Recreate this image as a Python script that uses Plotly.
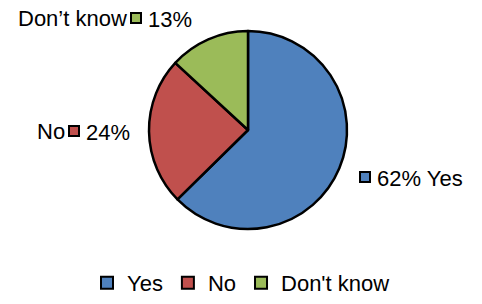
import plotly.graph_objects as go

labels = ["Yes", "No", "Don't know"]
values = [62, 24, 13]
colors = ["#4F81BD", "#C0504D", "#9BBB59"]

W, H = 482, 304
fig = go.Figure(go.Pie(
    labels=labels, values=values, sort=False, direction="clockwise", rotation=0,
    marker=dict(colors=colors, line=dict(color="black", width=2.5)),
    textinfo="none", hoverinfo="label+percent",
    domain=dict(x=[149/W, 347/W], y=[(H-229)/H, (H-31)/H]),
))

def px(x): return x / W
def py(y): return 1 - y / H

font = dict(family="Liberation Sans, Arial", size=22, color="black")
items = [
    (0, 365, 177, None, f"{values[0]}% Yes"),
    (1, 74, 131, "No", f"{values[1]}%"),
    (2, 136, 18, "Don\u2019t know", f"{values[2]}%"),
]
shapes = []
annots = []
for idx, sx, sy, left, right in items:
    s = 5
    shapes.append(dict(type="rect", xref="paper", yref="paper",
                       x0=px(sx - s), x1=px(sx + s), y0=py(sy + s), y1=py(sy - s),
                       fillcolor=colors[idx], line=dict(color="black", width=2)))
    if left:
        annots.append(dict(x=px(sx - 7), y=py(sy), xref="paper", yref="paper",
                           text=left, showarrow=False, xanchor="right", yanchor="middle", font=font))
    annots.append(dict(x=px(sx + 10), y=py(sy + 1), xref="paper", yref="paper",
                       text=right, showarrow=False, xanchor="left", yanchor="middle", font=font))

fig.update_layout(
    width=W, height=H, margin=dict(l=0, r=0, t=0, b=0),
    paper_bgcolor="white", plot_bgcolor="white",
    shapes=shapes, annotations=annots,
    showlegend=True,
    legend=dict(orientation="h", x=0.5, xanchor="center", y=0.0, yanchor="bottom",
                font=font, itemsizing="constant", traceorder="normal"),
)
fig.write_html("out.html")
